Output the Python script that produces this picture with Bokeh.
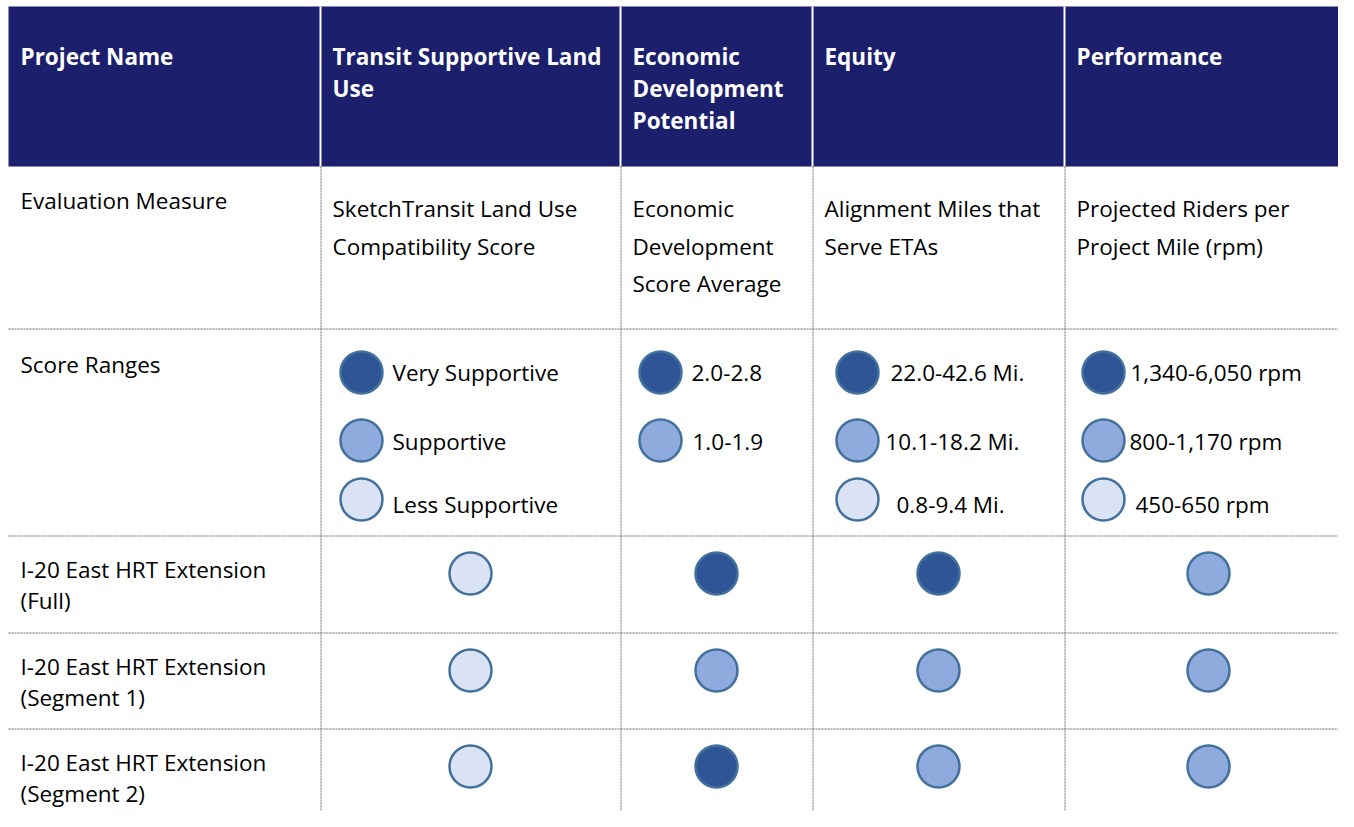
from bokeh.plotting import figure
from bokeh.models import Range1d
from bokeh.core.properties import value
from bokeh.embed import file_html
from bokeh.resources import INLINE

# ---------------- data ----------------
header_labels = [
    ["Project Name"],
    ["Transit Supportive Land", "Use"],
    ["Economic", "Development", "Potential"],
    ["Equity"],
    ["Performance"],
]
measure_title = "Evaluation Measure"
measures = [
    ["SketchTransit Land Use", "Compatibility Score"],
    ["Economic", "Development", "Score Average"],
    ["Alignment Miles that", "Serve ETAs"],
    ["Projected Riders per", "Project Mile (rpm)"],
]
ranges_title = "Score Ranges"
land_use_levels = ["Very Supportive", "Supportive", "Less Supportive"]
econ_levels = ["2.0-2.8", "1.0-1.9"]
equity_levels = ["22.0-42.6 Mi.", "10.1-18.2 Mi.", "0.8-9.4 Mi."]
perf_levels = ["1,340-6,050 rpm", "800-1,170 rpm", "450-650 rpm"]
legend_levels = [land_use_levels, econ_levels, equity_levels, perf_levels]

projects = [
    ["I-20 East HRT Extension", "(Full)"],
    ["I-20 East HRT Extension", "(Segment 1)"],
    ["I-20 East HRT Extension", "(Segment 2)"],
]
# score level index per project: 0 = highest (dark), 1 = middle, 2 = lowest (light)
land_use_scores = [2, 2, 2]
econ_scores = [0, 1, 0]
equity_scores = [0, 1, 1]
perf_scores = [1, 1, 1]
scores = [land_use_scores, econ_scores, equity_scores, perf_scores]

# ---------------- style / layout ----------------
FONT = value("Open Sans")
FS = "22.5px"
HEADER_BG = "#1C1F6B"
LEVEL_FILLS = ["#2F5597", "#8FAADC", "#DAE3F3"]
OUTLINE = "#41719C"
GRID = "#6A6A6A"

W, H = 1338, 811
col_edges = [8, 320, 620, 812, 1064, 1352]
row_edges = [6, 166, 328, 535, 632, 728, 840]
PAD = 12

legend_cx = [361, 660, 857, 1103]
legend_label_x = [[392, 392, 392], [691, 692], [890, 885, 896], [1130, 1129, 1135]]
legend_cy = [372, 440, 499]
legend_ty = [372, 441, 504]

p = figure(width=W, height=H, x_range=Range1d(0, W), y_range=Range1d(H, 0),
           output_backend="svg", toolbar_location=None, min_border=0)
p.axis.visible = False
p.grid.visible = False
p.outline_line_color = None
p.background_fill_color = "white"
p.border_fill_color = "white"

# header band
p.quad(left=[col_edges[0]], right=[1360], top=[row_edges[0]], bottom=[row_edges[1]],
       fill_color=HEADER_BG, line_color=None)
# white separators in header
sep_x = col_edges[1:5]
p.segment(x0=sep_x, x1=sep_x, y0=[row_edges[0]] * 4, y1=[row_edges[1]] * 4,
          line_color="white", line_width=2)
# dotted verticals in body
vx = [x + 0.5 for x in sep_x]
p.segment(x0=vx, x1=vx, y0=[row_edges[1]] * 4, y1=[row_edges[-1]] * 4,
          line_color=GRID, line_width=1, line_dash="2 1")
# dotted horizontals
hy = [y + 0.5 for y in row_edges[2:6]]
p.segment(x0=[col_edges[0]] * 4, x1=[col_edges[-1]] * 4, y0=hy, y1=hy,
          line_color=GRID, line_width=1, line_dash="2 1")

def txt(xs, ys, ts, color="black", bold=False):
    p.text(x=xs, y=ys, text=ts, text_font=FONT, text_font_size=FS,
           text_font_style="bold" if bold else "normal", text_color=color,
           text_align="left", text_baseline="middle")

# header text
hx, hy_, ht = [], [], []
for ci, lines in enumerate(header_labels):
    for li, line in enumerate(lines):
        hx.append(col_edges[ci] + PAD)
        hy_.append(56 + li * 32)
        ht.append(line)
txt(hx, hy_, ht, color="white", bold=True)

# evaluation measure row
ex, ey, et = [col_edges[0] + PAD], [200], [measure_title]
for ci, lines in enumerate(measures):
    for li, line in enumerate(lines):
        ex.append(col_edges[ci + 1] + PAD)
        ey.append(208 + li * 37.5)
        et.append(line)
txt(ex, ey, et)

# score ranges row
txt([col_edges[0] + PAD], [364], [ranges_title])
lx, ly, lt, cx, cy, cf = [], [], [], [], [], []
for ci, levels in enumerate(legend_levels):
    for li, lab in enumerate(levels):
        cx.append(legend_cx[ci])
        cy.append(legend_cy[li])
        cf.append(LEVEL_FILLS[li])
        lx.append(legend_label_x[ci][li])
        ly.append(legend_ty[li])
        lt.append(lab)
p.scatter(x=cx, y=cy, marker="circle", size=42, fill_color=cf,
          line_color=OUTLINE, line_width=2.5)
txt(lx, ly, lt)

# project rows
px, py, pt = [], [], []
sx, sy, sf = [], [], []
for ri, lines in enumerate(projects):
    top = row_edges[3 + ri]
    for li, line in enumerate(lines):
        px.append(col_edges[0] + PAD)
        py.append(top + 34 + li * 31)
        pt.append(line)
    for ci in range(4):
        sx.append((col_edges[ci + 1] + col_edges[ci + 2]) / 2)
        sy.append(top + 38)
        sf.append(LEVEL_FILLS[scores[ci][ri]])
txt(px, py, pt)
p.scatter(x=sx, y=sy, marker="circle", size=42, fill_color=sf,
          line_color=OUTLINE, line_width=2.5)

open("out.html", "w").write(file_html(p, INLINE))
